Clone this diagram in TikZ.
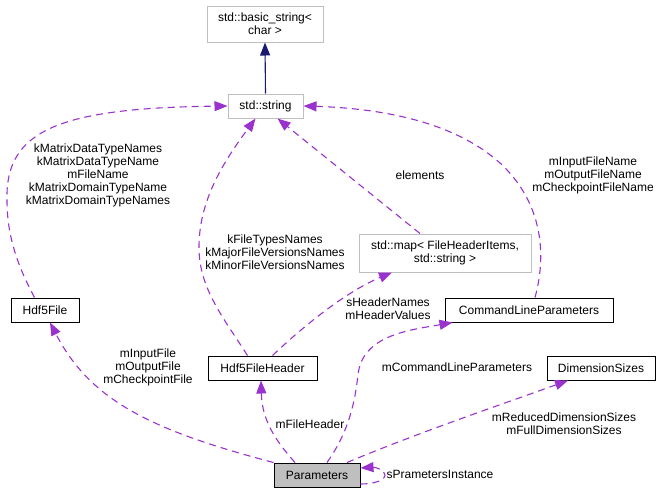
\documentclass[tikz,border=0pt]{standalone}
\usepackage{fontspec}
\setmainfont{Liberation Sans}
\usetikzlibrary{arrows.meta,calc}
\definecolor{edgep}{HTML}{9A32CD}
\definecolor{edgen}{HTML}{191970}
\definecolor{boxg}{HTML}{BFBFBF}
\begin{document}
\begin{tikzpicture}[x=1pt,y=-1pt,
  every node/.style={font=\fontsize{12}{13}\selectfont, inner sep=0pt, align=center},
  cls/.style={draw=black, line width=1pt, fill=white, rectangle},
  ext/.style={draw=boxg, line width=1pt, fill=white, rectangle},
  cur/.style={draw=black, fill=boxg, line width=1pt, rectangle},
  usage/.style={draw=edgep, dash pattern=on 7pt off 5pt, line width=1.1pt, -{Triangle[length=13pt,width=10pt,fill=edgep]}},
  inh/.style={draw=edgen, line width=1.1pt, -{Triangle[length=13pt,width=10pt,fill=edgen]}},
  lbl/.style={}
]
\useasboundingbox (0,0) rectangle (663,493);
% nodes
\node[ext, minimum width=116pt, minimum height=36pt] (bs) at (265,24) {std::basic\_string<\\char >};
\node[ext, minimum width=75pt, minimum height=24pt] (str) at (265.5,106) {std::string};
\node[ext, minimum width=172pt, minimum height=38pt] (map) at (445,253) {std::map< FileHeaderItems,\\std::string >};
\node[cls, minimum width=168pt, minimum height=24pt] (clp) at (529,310) {CommandLineParameters};
\node[cls, minimum width=68pt, minimum height=24pt] (hf) at (45,310) {Hdf5File};
\node[cls, minimum width=109pt, minimum height=24pt] (hfh) at (262.5,368) {Hdf5FileHeader};
\node[cls, minimum width=108pt, minimum height=24pt] (ds) at (601,368) {DimensionSizes};
\node[cur, minimum width=86pt, minimum height=24pt] (par) at (317,475) {Parameters};
% inheritance
\draw[inh] (str.north) -- (bs.south);
% usage edges
\draw[usage] ([xshift=24pt]hf.north west) .. controls (20,270) and (7,240) .. (7,200) .. controls (5,130) and (60,108) .. (str.west);
\draw[usage] ([xshift=40pt]hfh.north west) .. controls (225,320) and (200,290) .. (199,250) .. controls (198,200) and (225,160) .. ([xshift=-10pt]str.south);
\draw[usage] ([xshift=-25pt]map.north) -- ([xshift=12pt]str.south);
\draw[usage] ([xshift=6pt]clp.north) .. controls (548,250) and (540,200) .. (500,163) .. controls (450,118) and (370,108) .. (str.east);
\draw[usage] ([xshift=10pt]hfh.north) .. controls (310,320) and (350,290) .. ([xshift=-53pt]map.south);
\draw[usage] (par.north west) .. controls (150,430) and (90,400) .. ([xshift=5pt]hf.south);
\draw[usage] ([xshift=-22pt]par.north) .. controls (275,440) and (262,420) .. ([xshift=-1.5pt]hfh.south);
\draw[usage] ([xshift=10pt]par.north) .. controls (350,430) and (355,400) .. (358,375) .. controls (362,335) and (410,330) .. ([xshift=8pt]clp.south west);
\draw[usage] ([xshift=30pt]par.north) .. controls (420,432) and (500,405) .. ([xshift=-33pt]ds.south);
\draw[usage] ([yshift=-9pt]par.east) .. controls (375,484) and (385,480) .. (385,475) .. controls (385,470) and (375,467) .. ([yshift=7pt]par.east);
% labels
\node[lbl] (l1) at (98,175) {kMatrixDataTypeNames\\kMatrixDataTypeName\\mFileName\\kMatrixDomainTypeName\\kMatrixDomainTypeNames};
\node[lbl] (l2) at (275,252) {kFileTypesNames\\kMajorFileVersionsNames\\kMinorFileVersionsNames};
\node[lbl] (l3) at (420,175) {elements};
\node[lbl] (l4) at (593,175) {mInputFileName\\mOutputFileName\\mCheckpointFileName};
\node[lbl] (l5) at (388,309) {sHeaderNames\\mHeaderValues};
\node[lbl] (l6) at (148,367) {mInputFile\\mOutputFile\\mCheckpointFile};
\node[lbl] (l7) at (310,424) {mFileHeader};
\node[lbl] (l8) at (457,367) {mCommandLineParameters};
\node[lbl] (l9) at (564,424) {mReducedDimensionSizes\\mFullDimensionSizes};
\node[lbl] (l10) at (440,474) {sPrametersInstance};
\end{tikzpicture}
\end{document}
